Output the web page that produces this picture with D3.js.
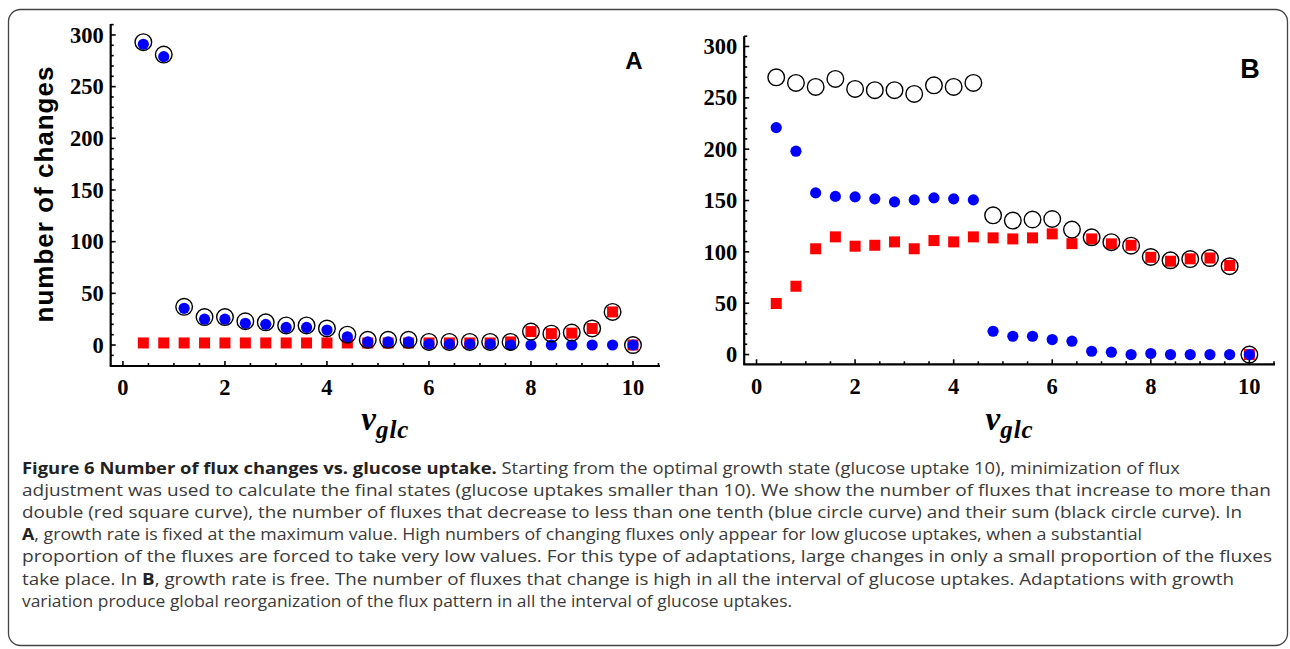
<!DOCTYPE html>
<html><head><meta charset="utf-8">
<script src="https://cdn.jsdelivr.net/npm/d3@7"></script>
<style>body{margin:0;background:#fff} svg{display:block}</style>
</head><body>
<svg id="chart" width="1290" height="649"></svg>
<script>
// ---- data ----
const glucoseUptake = [0.4,0.8,1.2,1.6,2.0,2.4,2.8,3.2,3.6,4.0,4.4,4.8,5.2,5.6,6.0,6.4,6.8,7.2,7.6,8.0,8.4,8.8,9.2,9.6,10];
const xTickLabels = [0,2,4,6,8,10];
const yTickLabels = [0,50,100,150,200,250,300];

// Panel A: growth rate fixed
const aIncrease = [2,2,2,2,2,2,2,2,2,2,2,2,2,2,2,2,2,2,3,13,11,11.5,16,32,0];
const aDecrease = [291,279,35.5,25,25,21,20,17,17,14.5,8,3,3,3,1,1,1,1,0,0,0,0,0,0,0];
const aSum      = [293,281,37,27,27,23,22,19,19,16,10,5,5,5,3,3,3,3,3,13,11,12,16,32,0];

// Panel B: growth rate free
const bIncrease = [49.7,66.5,103,114.6,105.5,106.4,109.7,103,111,109.7,114.6,113.6,112.6,113.6,117.5,108,112.6,107.8,106.4,94.7,90.9,93.2,94,86.7,0];
const bDecrease = [221,198,157.4,154,153.5,151.6,148.7,150.6,152.6,151.6,150.6,22.7,17.8,17.8,14.6,13,3.2,2.3,0,1,0,0,0,0,0];
const bSum      = [270,264.5,260.6,268.4,258.7,257.4,257.4,253.8,262.2,260.6,264.5,135.6,130.5,131.5,132,121.7,114.2,109.4,106,95,91.8,93,94,86,0];

const captionLines = [
  [{t:"Figure 6 Number of flux changes vs. glucose uptake.", b:true},{t:" Starting from the optimal growth state (glucose uptake 10), minimization of flux"}],
  [{t:"adjustment was used to calculate the final states (glucose uptakes smaller than 10). We show the number of fluxes that increase to more than"}],
  [{t:"double (red square curve), the number of fluxes that decrease to less than one tenth (blue circle curve) and their sum (black circle curve). In"}],
  [{t:"A", b:true},{t:", growth rate is fixed at the maximum value. High numbers of changing fluxes only appear for low glucose uptakes, when a substantial"}],
  [{t:"proportion of the fluxes are forced to take very low values. For this type of adaptations, large changes in only a small proportion of the fluxes"}],
  [{t:"take place. In "},{t:"B", b:true},{t:", growth rate is free. The number of fluxes that change is high in all the interval of glucose uptakes. Adaptations with growth"}],
  [{t:"variation produce global reorganization of the flux pattern in all the interval of glucose uptakes."}]
];
const captionWidths = [1158,1249,1220,1120,1250,1212,770];

// ---- drawing ----
const svg = d3.select("#chart");
svg.append("rect").attr("width",1290).attr("height",649).attr("fill","#fff");
svg.append("rect").attr("x",8.5).attr("y",9.5).attr("width",1279).attr("height",636)
  .attr("rx",12).attr("fill","none").attr("stroke","#444").attr("stroke-width",1.3);

function panel(cfg){
  const x = d3.scaleLinear().domain(cfg.xd).range(cfg.xr);
  const y = d3.scaleLinear().domain(cfg.yd).range(cfg.yr);
  const g = svg.append("g");
  const x0 = cfg.xr[0], y0 = cfg.yr[0];
  // y axis
  const yMinor = d3.range(-10, 311, 10).filter(v => v>=cfg.yd[0] && v<=cfg.yd[1]);
  g.selectAll(".ymt").data(yMinor).join("line")
    .attr("x1",x0).attr("x2",d => x0 + (d%50===0?5:3))
    .attr("y1",d=>y(d)).attr("y2",d=>y(d))
    .attr("stroke","#000").attr("stroke-width",1.6);
  g.append("line").attr("x1",x0).attr("x2",x0).attr("y1",cfg.yr[0]).attr("y2",cfg.yr[1])
    .attr("stroke","#000").attr("stroke-width",2.2);
  g.selectAll(".yl").data(yTickLabels).join("text")
    .attr("x",x0-7).attr("y",d=>y(d)).attr("dy","0.34em")
    .attr("text-anchor","end")
    .attr("font-family","'Liberation Serif','Times New Roman',serif")
    .attr("font-weight","bold").attr("font-size",22.5).text(d=>d);
  // x axis
  const xMinor = d3.range(0, 10.51, 0.5);
  g.selectAll(".xmt").data(xMinor).join("line")
    .attr("x1",d=>x(d)).attr("x2",d=>x(d))
    .attr("y1",y0).attr("y2",d => y0 - (Math.abs(d/2-Math.round(d/2))<1e-9?5:3))
    .attr("stroke","#000").attr("stroke-width",1.6);
  g.append("line").attr("x1",cfg.xr[0]-1).attr("x2",cfg.xr[1]).attr("y1",y0).attr("y2",y0)
    .attr("stroke","#000").attr("stroke-width",2.2);
  g.selectAll(".xl").data(xTickLabels).join("text")
    .attr("x",d=>x(d)).attr("y",cfg.xlabY)
    .attr("text-anchor","middle")
    .attr("font-family","'Liberation Serif','Times New Roman',serif")
    .attr("font-weight","bold").attr("font-size",22.5).text(d=>d);
  // x axis title
  const xt = g.append("text").attr("x",(cfg.xr[0]+cfg.xr[1])/2).attr("y",cfg.titleY)
    .attr("text-anchor","middle")
    .attr("font-family","'Liberation Serif','Times New Roman',serif")
    .attr("font-weight","bold").attr("font-style","italic");
  xt.append("tspan").attr("font-size",33).text("v");
  xt.append("tspan").attr("font-size",25).attr("dy",8).attr("letter-spacing",1).text("glc");
  // panel letter
  g.append("text").attr("x",cfg.letterX).attr("y",cfg.letterY).attr("text-anchor","middle")
    .attr("font-family","'Liberation Sans',Arial,sans-serif").attr("font-weight","bold")
    .attr("font-size",cfg.letterSize).text(cfg.letter);
  // data: red squares, blue dots, black open circles
  const s = 11;
  g.selectAll(".sq").data(glucoseUptake).join("rect")
    .attr("x",(d)=>x(d)-s/2).attr("y",(d,i)=>y(cfg.inc[i])-s/2)
    .attr("width",s).attr("height",s).attr("fill","#ff0000");
  g.selectAll(".dot").data(glucoseUptake).join("circle")
    .attr("cx",d=>x(d)).attr("cy",(d,i)=>y(cfg.dec[i])).attr("r",5.6).attr("fill","#0000ff");
  g.selectAll(".ring").data(glucoseUptake).join("circle")
    .attr("cx",d=>x(d)).attr("cy",(d,i)=>y(cfg.sum[i])).attr("r",8.3)
    .attr("fill","none").attr("stroke","#000").attr("stroke-width",1.4);
  return {x,y};
}

panel({xd:[-0.24,10.53], xr:[110.7,660], yd:[-20.3,310.6], yr:[366,24],
  inc:aIncrease, dec:aDecrease, sum:aSum, letter:"A", letterX:634, letterY:68.5, letterSize:24,
  xlabY:395, titleY:430});
panel({xd:[-0.25,10.52], xr:[744.2,1275], yd:[-9.5,310], yr:[364.3,36.2],
  inc:bIncrease, dec:bDecrease, sum:bSum, letter:"B", letterX:1250, letterY:78, letterSize:27,
  xlabY:394, titleY:430});

// y axis title (panel A)
svg.append("text").attr("transform","translate(53,194) rotate(-90)")
  .attr("text-anchor","middle")
  .attr("font-family","'Liberation Sans',Arial,sans-serif").attr("font-weight","bold")
  .attr("font-size",26).attr("letter-spacing",1).text("number of changes");

// caption
const cap = svg.append("g");
captionLines.forEach((line,i) => {
  const t = cap.append("text").attr("x",22).attr("y",474 + i*22.1)
    .attr("font-family","'Open Sans','Noto Sans',sans-serif").attr("font-size",16.5)
    .attr("fill","#3a3a3a")
    .attr("textLength",captionWidths[i]).attr("lengthAdjust","spacingAndGlyphs");
  line.forEach(p => {
    const sp = t.append("tspan").text(p.t);
    if (p.b) sp.attr("font-weight","bold").attr("fill","#222");
  });
});
</script>
</body></html>
